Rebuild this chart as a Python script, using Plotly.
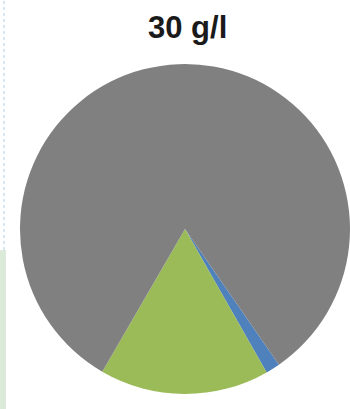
import plotly.graph_objects as go

labels = ["Blue", "Green", "Gray"]
values = [1.4, 16.6, 82.0]
colors = ["#4f81bd", "#9bbb59", "#808080"]
title_text = "30 g/l"

W, H = 350, 409
cx, cy, r = 185, 229, 165

fig = go.Figure(go.Pie(
    labels=labels,
    values=values,
    sort=False,
    direction="clockwise",
    rotation=145.3,
    marker=dict(colors=colors, line=dict(width=0)),
    textinfo="none",
    hoverinfo="none",
    showlegend=False,
    domain=dict(x=[(cx - r) / W, min(1.0, (cx + r) / W)],
                y=[(H - (cy + r)) / H, (H - (cy - r)) / H]),
))

fig.add_annotation(
    text="<b>" + title_text + "</b>",
    xref="paper", yref="paper",
    x=187 / W, y=(H - 27) / H,
    xanchor="center", yanchor="middle",
    showarrow=False,
    font=dict(family="Liberation Sans, Arial, sans-serif", size=31, color="#1a1a1a"),
)

# faint decorative left border (slide background edge)
fig.add_shape(type="line", xref="paper", yref="paper",
              x0=4 / W, x1=4 / W, y0=(H - 250) / H, y1=1,
              line=dict(color="#d6e6f2", width=2, dash="dot"))
fig.add_shape(type="rect", xref="paper", yref="paper",
              x0=0, x1=6 / W, y0=0, y1=(H - 250) / H,
              fillcolor="#d3e5d0", line=dict(width=0), opacity=0.8)

fig.update_layout(
    width=W, height=H,
    margin=dict(l=0, r=0, t=0, b=0),
    paper_bgcolor="white",
    plot_bgcolor="white",
)

fig.write_html("out.html", config={"displayModeBar": False},
               post_script="document.body.style.margin='0';")
